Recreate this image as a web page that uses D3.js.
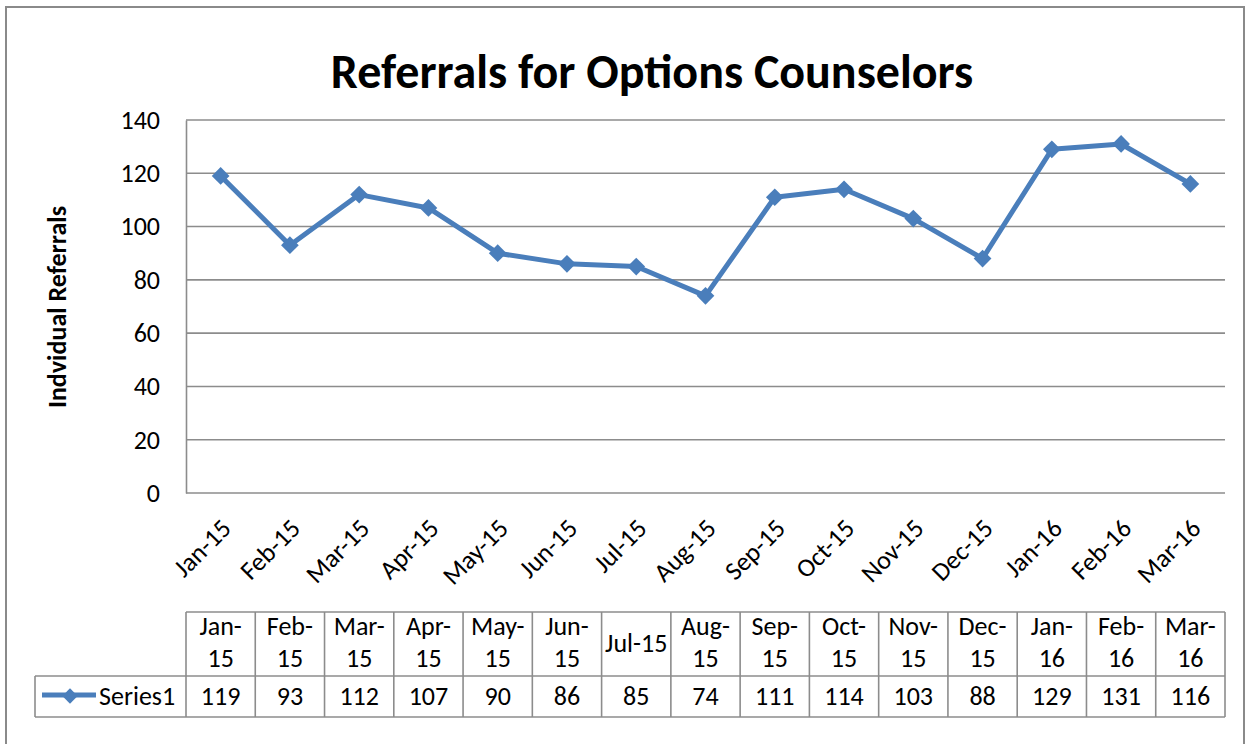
<!DOCTYPE html>
<html>
<head>
<meta charset="utf-8">
<script src="https://cdn.jsdelivr.net/npm/d3@7"></script>
<style>
	body { margin: 0; background: #fff; }
	svg { display: block; font-family: Carlito, Calibri, Lato, "Noto Sans", sans-serif; }
</style>
</head>
<body>
<svg id="chart" width="1247" height="744"></svg>
<script>
var months = ["Jan-15", "Feb-15", "Mar-15", "Apr-15", "May-15", "Jun-15", "Jul-15", "Aug-15",
	"Sep-15", "Oct-15", "Nov-15", "Dec-15", "Jan-16", "Feb-16", "Mar-16"];
var referrals = [119, 93, 112, 107, 90, 86, 85, 74, 111, 114, 103, 88, 129, 131, 116];
var yTicks = [0, 20, 40, 60, 80, 100, 120, 140];
var seriesName = "Series1";
var chartTitle = "Referrals for Options Counselors";
var yTitle = "Indvidual Referrals";

+function(){
	var svg = d3.select("#chart");
	var blue = "#4a7ebb", grid = "#8c8c8c";
	var fs = 26;

	var plot = {left: 186, right: 1225, top: 120, bottom: 493};

	var x = d3.scaleBand().domain(months).range([plot.left, plot.right]).padding(0);
	var y = d3.scaleLinear().domain([0, 140]).range([plot.bottom, plot.top]);
	var cx = function(m){ return x(m) + x.bandwidth() / 2; };

	// outer chart border
	svg.append("rect")
		.attr("x", 6).attr("y", 7).attr("width", 1238).attr("height", 800)
		.attr("fill", "none").attr("stroke", "#8a8a8a").attr("stroke-width", 2);

	svg.append("text")
		.attr("x", 652).attr("y", 88)
		.attr("text-anchor", "middle")
		.attr("font-size", 48).attr("font-weight", "bold")
		.text(chartTitle);

	// gridlines
	svg.append("g").selectAll("line")
		.data(yTicks)
		.enter().append("line")
		.attr("x1", plot.left).attr("x2", plot.right)
		.attr("y1", function(d){ return y(d); })
		.attr("y2", function(d){ return y(d); })
		.attr("stroke", grid).attr("stroke-width", 1.6);

	// y axis
	var yAxis = svg.append("g")
		.attr("transform", "translate(" + plot.left + ",0)")
		.call(d3.axisLeft(y).tickValues(yTicks).tickSize(0).tickPadding(26));
	yAxis.select(".domain").attr("stroke", grid).attr("stroke-width", 1.6);
	yAxis.attr("font-family", null).attr("font-size", fs);
	yAxis.selectAll("text").attr("fill", "#000");

	svg.append("text")
		.attr("transform", "translate(66,307) rotate(-90)")
		.attr("text-anchor", "middle")
		.attr("font-size", 26).attr("font-weight", "bold")
		.text(yTitle);

	// x axis labels, rotated
	svg.append("g").selectAll("text")
		.data(months)
		.enter().append("text")
		.attr("transform", function(d){ return "translate(" + (cx(d) + 12) + ",530) rotate(-45)"; })
		.attr("text-anchor", "end")
		.attr("font-size", fs)
		.text(function(d){ return d; });

	// series line
	var line = d3.line()
		.x(function(d, i){ return cx(months[i]); })
		.y(function(d){ return y(d); });

	svg.append("path")
		.datum(referrals)
		.attr("d", line)
		.attr("fill", "none").attr("stroke", blue)
		.attr("stroke-width", 5).attr("stroke-linejoin", "round");

	var diamond = d3.symbol().type(d3.symbolDiamond2).size(200);
	svg.append("g").selectAll("path")
		.data(referrals)
		.enter().append("path")
		.attr("d", diamond)
		.attr("transform", function(d, i){ return "translate(" + cx(months[i]) + "," + y(d) + ")"; })
		.attr("fill", blue);

	// data table
	var t = {top: 612, mid: 676, bottom: 717, legendLeft: 35};
	var tg = svg.append("g").attr("stroke", grid).attr("stroke-width", 1.6);
	tg.append("line").attr("x1", plot.left).attr("x2", plot.right).attr("y1", t.top).attr("y2", t.top);
	tg.append("line").attr("x1", t.legendLeft).attr("x2", plot.right).attr("y1", t.mid).attr("y2", t.mid);
	tg.append("line").attr("x1", t.legendLeft).attr("x2", plot.right).attr("y1", t.bottom).attr("y2", t.bottom);
	tg.append("line").attr("x1", t.legendLeft).attr("x2", t.legendLeft).attr("y1", t.mid).attr("y2", t.bottom);
	tg.selectAll("line.col")
		.data(months.concat(["end"]))
		.enter().append("line").attr("class", "col")
		.attr("x1", function(d){ return d === "end" ? plot.right : x(d); })
		.attr("x2", function(d){ return d === "end" ? plot.right : x(d); })
		.attr("y1", t.top).attr("y2", t.bottom);

	// header cells, wrap at the dash if too wide
	var hdr = svg.append("g").selectAll("text")
		.data(months)
		.enter().append("text")
		.attr("text-anchor", "middle")
		.attr("font-size", fs)
		.attr("x", function(d){ return cx(d); });
	hdr.each(function(d){
		var el = d3.select(this).text(d);
		if (this.getComputedTextLength() > 66) {
			var parts = d.split("-");
			el.text(null);
			el.append("tspan").attr("x", cx(d)).attr("y", 635).text(parts[0] + "-");
			el.append("tspan").attr("x", cx(d)).attr("y", 667).text(parts[1]);
		} else {
			el.attr("y", 652);
		}
	});

	svg.append("g").selectAll("text")
		.data(referrals)
		.enter().append("text")
		.attr("text-anchor", "middle")
		.attr("font-size", fs)
		.attr("x", function(d, i){ return cx(months[i]); })
		.attr("y", 705)
		.text(function(d){ return d; });

	// legend key
	svg.append("line")
		.attr("x1", 42).attr("x2", 96).attr("y1", 695).attr("y2", 695)
		.attr("stroke", blue).attr("stroke-width", 5);
	svg.append("path")
		.attr("d", d3.symbol().type(d3.symbolDiamond2).size(150))
		.attr("transform", "translate(70,696)")
		.attr("fill", blue);
	svg.append("text")
		.attr("x", 99).attr("y", 705)
		.attr("font-size", fs)
		.text(seriesName);
}();
</script>
</body>
</html>
